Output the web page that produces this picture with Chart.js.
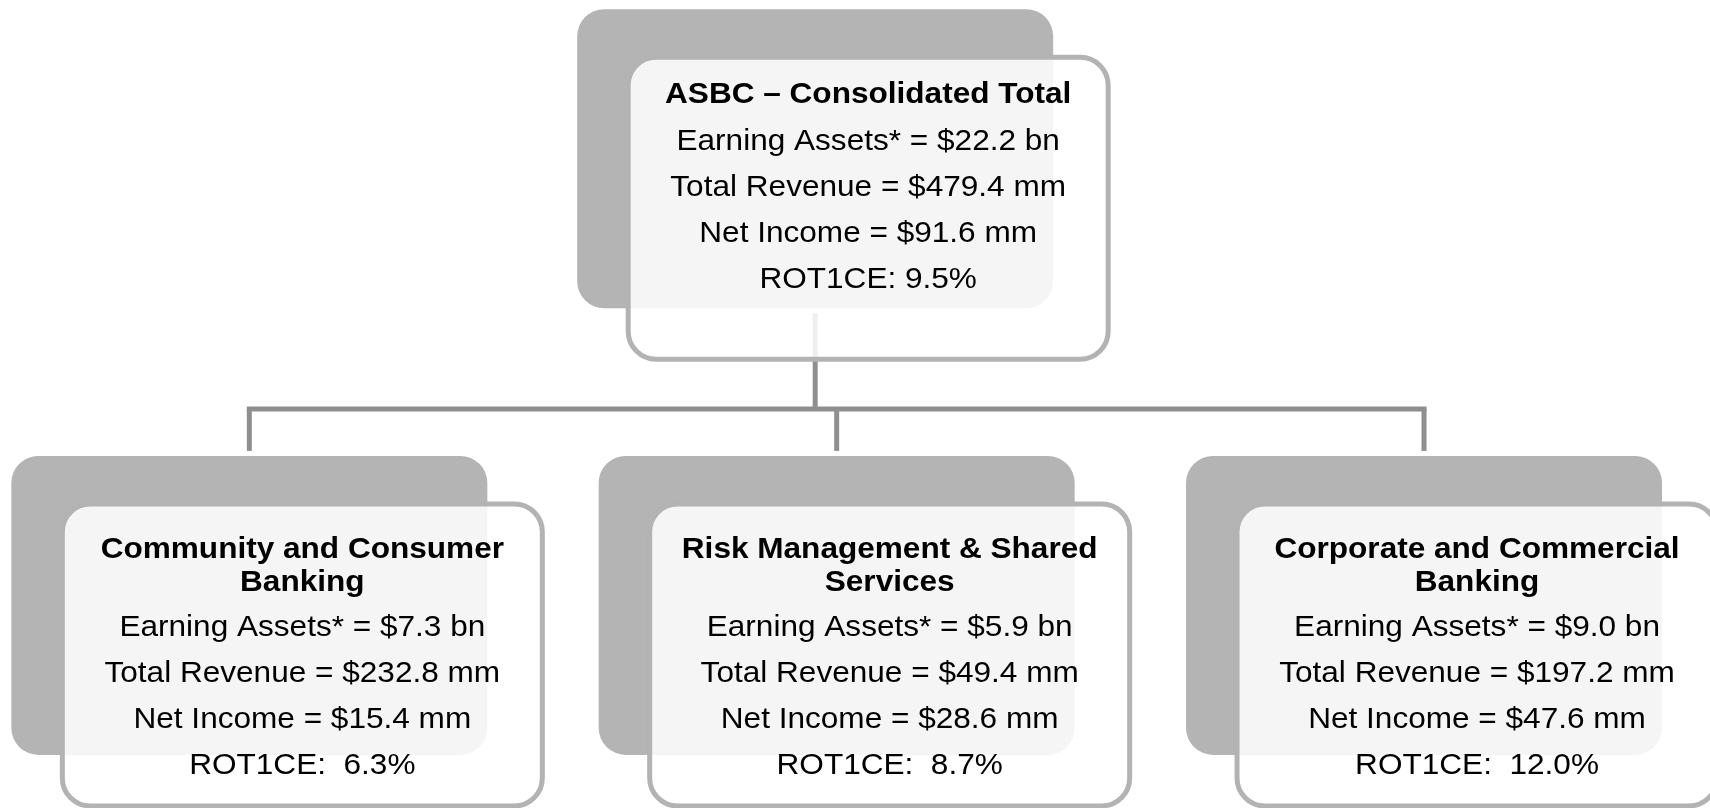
<!DOCTYPE html>
<html lang="en">
<head>
  <meta charset="UTF-8">
  <title>ASBC – Segment Structure</title>
  <script src="https://cdn.jsdelivr.net/npm/chart.js"></script>
  <style>
    html, body { margin: 0; padding: 0; background: #fff; overflow: hidden; }
    #wrap { width: 1710px; height: 808px; }
  </style>
</head>
<body>
  <div id="wrap"><canvas id="org" width="1710" height="808"></canvas></div>
  <script>
    // Units and their figures
    var units = ['ASBC – Consolidated Total', 'Community and Consumer Banking', 'Risk Management & Shared Services', 'Corporate and Commercial Banking'];
    var parentOf = [null, 0, 0, 0];
    var earningAssets = [22.2, 7.3, 5.9, 9.0];   // $ bn
    var totalRevenue = [479.4, 232.8, 49.4, 197.2]; // $ mm
    var netIncome = [91.6, 15.4, 28.6, 47.6];     // $ mm
    var rot1ce = [9.5, 6.3, 8.7, 12.0];           // %

    // tree layout: depth and slot derived from parentOf
    var depth = parentOf.map(function(p) { return p === null ? 0 : 1; });
    var kids = [];
    parentOf.forEach(function(p, i) { if (p !== null) kids.push(i); });
    var slot = units.map(function(u, i) {
      if (parentOf[i] !== null) return kids.indexOf(i);
      return (kids.length - 1) / 2;
    });

    // look
    var st = {
      grey: '#b4b4b4',
      greyW: 476, greyH: 299, greyR: 27,
      cardDx: 51, cardDy: 48, cardW: 480, cardH: 302, cardR: 28,
      cardFill: 'rgba(255,255,255,0.86)', cardLine: '#b3b3b3', cardLineW: 5,
      link: '#8f8f8f', linkW: 5,
      font: '"Liberation Sans", Arial, sans-serif', fontPx: 29.5, stretch: 1.07,
      wrapW: 450, titleStep: 33.4, bodyStep: 46,
      level: [
        { dx: -21.5, firstBase: 94, gapAfterTitle: 47, rotSep: ' ' },
        { dx: 0, firstBase: 101.6, gapAfterTitle: 45.3, rotSep: '  ' }
      ]
    };

    function roundRect(ctx, x, y, w, h, r) {
      ctx.beginPath();
      ctx.moveTo(x + r, y);
      ctx.lineTo(x + w - r, y);
      ctx.arcTo(x + w, y, x + w, y + r, r);
      ctx.lineTo(x + w, y + h - r);
      ctx.arcTo(x + w, y + h, x + w - r, y + h, r);
      ctx.lineTo(x + r, y + h);
      ctx.arcTo(x, y + h, x, y + h - r, r);
      ctx.lineTo(x, y + r);
      ctx.arcTo(x, y, x + r, y, r);
      ctx.closePath();
    }

    function wrap(ctx, text, maxW) {
      var words = text.split(' '), lines = [], cur = '';
      words.forEach(function(w) {
        var t = cur ? cur + ' ' + w : w;
        if (ctx.measureText(t).width * st.stretch > maxW && cur) { lines.push(cur); cur = w; }
        else cur = t;
      });
      if (cur) lines.push(cur);
      return lines;
    }

    var orgPlugin = {
      id: 'orgBoxes',
      afterDatasetsDraw: function(chart) {
        var ctx = chart.ctx;
        var pts = chart.getDatasetMeta(0).data;
        var pos = pts.map(function(p, i) {
          return { x: p.x + st.level[depth[i]].dx, y: p.y };
        });
        ctx.save();

        // connectors
        ctx.strokeStyle = st.link;
        ctx.lineWidth = st.linkW;
        ctx.lineCap = 'butt';
        var roots = units.map(function(u, i) { return i; }).filter(function(i) { return parentOf[i] === null; });
        roots.forEach(function(r) {
          var ch = kids.filter(function(k) { return parentOf[k] === r; });
          if (!ch.length) return;
          var childTop = pos[ch[0]].y - st.greyH / 2;
          var bus = childTop - 47;
          ctx.beginPath();
          ctx.moveTo(pos[r].x, pos[r].y + st.greyH / 2 + 5);
          ctx.lineTo(pos[r].x, bus);
          ctx.stroke();
          var xs = ch.map(function(k) { return pos[k].x; });
          ctx.beginPath();
          ctx.moveTo(Math.min.apply(null, xs) - st.linkW / 2, bus);
          ctx.lineTo(Math.max.apply(null, xs) + st.linkW / 2, bus);
          ctx.stroke();
          ch.forEach(function(k) {
            ctx.beginPath();
            ctx.moveTo(pos[k].x, bus);
            ctx.lineTo(pos[k].x, childTop - 5);
            ctx.stroke();
          });
        });

        units.forEach(function(name, i) {
          var gx = pos[i].x - st.greyW / 2, gy = pos[i].y - st.greyH / 2;
          var lv = st.level[depth[i]];
          // back panel
          ctx.fillStyle = st.grey;
          roundRect(ctx, gx, gy, st.greyW, st.greyH, st.greyR);
          ctx.fill();
          // front card
          var cx = gx + st.cardDx, cy = gy + st.cardDy;
          roundRect(ctx, cx, cy, st.cardW, st.cardH, st.cardR);
          ctx.fillStyle = st.cardFill;
          ctx.fill();
          ctx.strokeStyle = st.cardLine;
          ctx.lineWidth = st.cardLineW;
          ctx.stroke();

          // text
          var mid = cx + st.cardW / 2;
          var y = gy + lv.firstBase;
          ctx.fillStyle = '#000';
          ctx.textAlign = 'center';
          ctx.textBaseline = 'alphabetic';
          ctx.font = 'bold ' + st.fontPx + 'px ' + st.font;
          var titleLines = wrap(ctx, name, st.wrapW);
          titleLines.forEach(function(t, j) {
            if (j > 0) y += st.titleStep;
            ctx.save(); ctx.translate(mid, y); ctx.scale(st.stretch, 1); ctx.fillText(t, 0, 0); ctx.restore();
          });
          y += lv.gapAfterTitle;
          ctx.font = st.fontPx + 'px ' + st.font;
          var body = [
            'Earning Assets* = $' + earningAssets[i].toFixed(1) + ' bn',
            'Total Revenue = $' + totalRevenue[i].toFixed(1) + ' mm',
            'Net Income = $' + netIncome[i].toFixed(1) + ' mm',
            'ROT1CE:' + lv.rotSep + rot1ce[i].toFixed(1) + '%'
          ];
          body.forEach(function(t, j) {
            if (j > 0) y += st.bodyStep;
            ctx.save(); ctx.translate(mid, y); ctx.scale(st.stretch, 1); ctx.fillText(t, 0, 0); ctx.restore();
          });
        });
        ctx.restore();
      }
    };

    new Chart(document.getElementById('org').getContext('2d'), {
      type: 'scatter',
      data: {
        datasets: [{
          label: 'units',
          data: units.map(function(u, i) { return { x: slot[i], y: depth[i] }; }),
          pointRadius: 0,
          pointHoverRadius: 0
        }]
      },
      options: {
        responsive: false,
        animation: false,
        events: [],
        layout: { padding: 0 },
        plugins: { legend: { display: false }, tooltip: { enabled: false } },
        scales: {
          x: { type: 'linear', display: false, min: -0.4245, max: 2.4869 },
          y: { type: 'linear', display: false, reverse: true, min: -0.3553, max: 1.4535 }
        }
      },
      plugins: [orgPlugin]
    });
  </script>
</body>
</html>
